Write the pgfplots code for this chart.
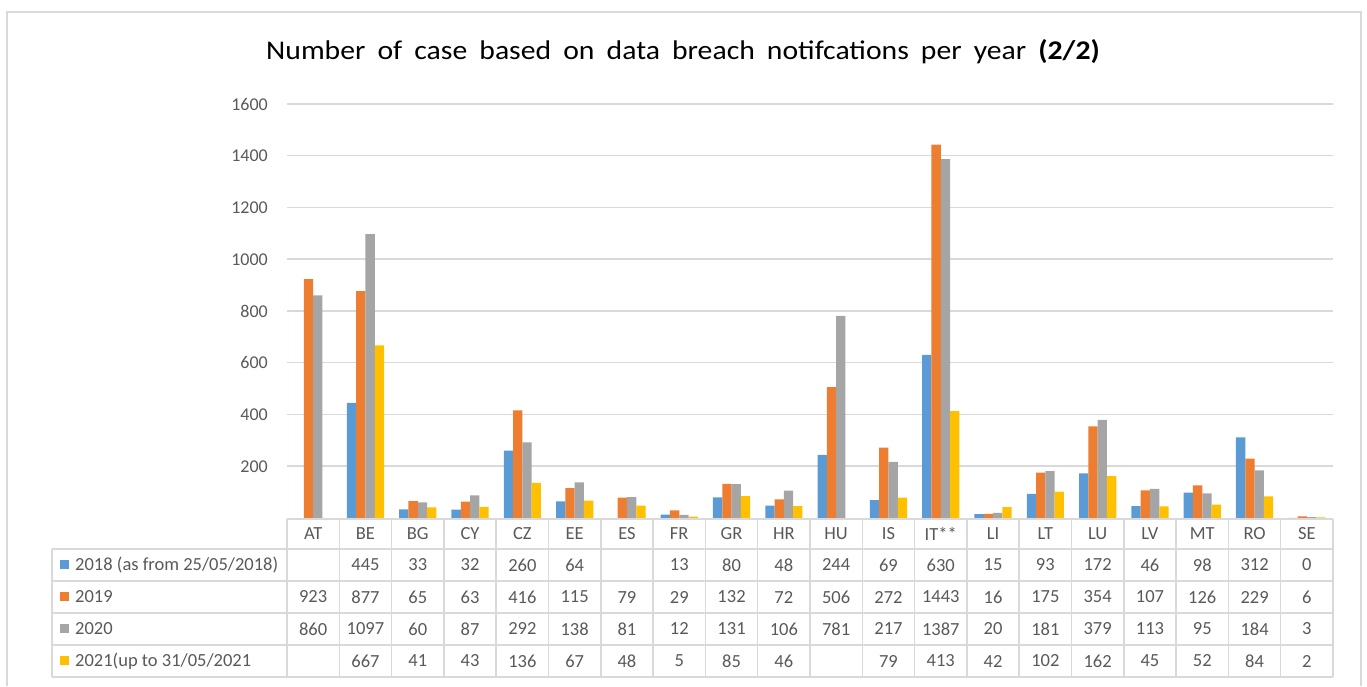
\documentclass[border=0pt]{standalone}
\usepackage{pgfplots}
\pgfplotsset{compat=1.18}
\usepackage{fontspec}
\setmainfont{Carlito}
\definecolor{cBlue}{HTML}{5B9BD5}
\definecolor{cOrange}{HTML}{ED7D31}
\definecolor{cGray}{HTML}{A5A5A5}
\definecolor{cYellow}{HTML}{FFC000}
\definecolor{cText}{HTML}{595959}
\definecolor{cLine}{HTML}{D9D9D9}
\begin{document}
\begin{tikzpicture}[x=1pt,y=1pt]
\path (0,0) rectangle (1367,686);
\draw[cLine, line width=2pt] (7,0) -- (7,674) -- (1361,674) -- (1361,0);
\node[text=black] at (683,634) {\scalebox{1.1}[1]{\fontsize{27}{30}\selectfont\spaceskip=11pt Number of case based on data breach notifcations per year \textbf{(2/2)}}};
\begin{axis}[
  at={(287pt,168pt)}, anchor=south west, scale only axis,
  width=1046pt, height=414pt,
  xmin=-0.5, xmax=19.5, ymin=0, ymax=1600,
  ybar=0pt, bar width=9.3pt,
  axis line style={draw=none},
  xtick=\empty,
  ytick={200,400,...,1600},
  ymajorgrids, grid style={cLine, line width=1.5pt},
  major tick length=0pt,
  /pgf/number format/set thousands separator={},
  /pgf/number format/assume math mode=true,
  yticklabel style={font=\fontsize{18}{20}\selectfont, text=cText, anchor=east, inner sep=0pt, xshift=-19pt},
  every axis plot/.append style={draw=none},
]
\addplot[fill=cBlue] coordinates {(1,445)(2,33)(3,32)(4,260)(5,64)(7,13)(8,80)(9,48)(10,244)(11,69)(12,630)(13,15)(14,93)(15,172)(16,46)(17,98)(18,312)(19,0)};
\addplot[fill=cOrange] coordinates {(0,923)(1,877)(2,65)(3,63)(4,416)(5,115)(6,79)(7,29)(8,132)(9,72)(10,506)(11,272)(12,1443)(13,16)(14,175)(15,354)(16,107)(17,126)(18,229)(19,6)};
\addplot[fill=cGray] coordinates {(0,860)(1,1097)(2,60)(3,87)(4,292)(5,138)(6,81)(7,12)(8,131)(9,106)(10,781)(11,217)(12,1387)(13,20)(14,181)(15,379)(16,113)(17,95)(18,184)(19,3)};
\addplot[fill=cYellow] coordinates {(1,667)(2,41)(3,43)(4,136)(5,67)(6,48)(7,5)(8,85)(9,46)(11,79)(12,413)(13,42)(14,102)(15,162)(16,45)(17,52)(18,84)(19,2)};
\end{axis}
% table grid
\begin{scope}[cLine, line width=1.5pt]
\draw (287,167) -- (1333,167);
\foreach \yy in {137,105,73,41,9} {\draw (52,\yy) -- (1333,\yy);}
\draw (52,137) -- (52,9);
\foreach \k in {0,...,20} {\draw ({287+52.3*\k},167) -- ({287+52.3*\k},9);}
\end{scope}
\begin{scope}[every node/.style={font=\fontsize{18.5}{20}\selectfont, text=cText, inner sep=0pt}]
\foreach \v [count=\i from 0] in {AT,BE,BG,CY,CZ,EE,ES,FR,GR,HR,HU,IS,IT**,LI,LT,LU,LV,MT,RO,SE}
  {\node at ({287+52.3*(\i+0.5)},152) {\v};}
\foreach \v [count=\i from 0] in {{},445,33,32,260,64,{},13,80,48,244,69,630,15,93,172,46,98,312,0}
  {\node at ({287+52.3*(\i+0.5)},121) {\v};}
\foreach \v [count=\i from 0] in {923,877,65,63,416,115,79,29,132,72,506,272,1443,16,175,354,107,126,229,6}
  {\node at ({287+52.3*(\i+0.5)},89) {\v};}
\foreach \v [count=\i from 0] in {860,1097,60,87,292,138,81,12,131,106,781,217,1387,20,181,379,113,95,184,3}
  {\node at ({287+52.3*(\i+0.5)},57) {\v};}
\foreach \v [count=\i from 0] in {{},667,41,43,136,67,48,5,85,46,{},79,413,42,102,162,45,52,84,2}
  {\node at ({287+52.3*(\i+0.5)},25) {\v};}
\fill[cBlue] (60,116.5) rectangle (69,125.5);
\fill[cOrange] (60,84.5) rectangle (69,93.5);
\fill[cGray] (60,52.5) rectangle (69,61.5);
\fill[cYellow] (60,20.5) rectangle (69,29.5);
\node[anchor=west] at (75,121) {2018 (as from 25/05/2018)};
\node[anchor=west] at (75,89) {2019};
\node[anchor=west] at (75,57) {2020};
\node[anchor=west] at (75,25) {2021(up to 31/05/2021};
\end{scope}
\end{tikzpicture}
\end{document}
